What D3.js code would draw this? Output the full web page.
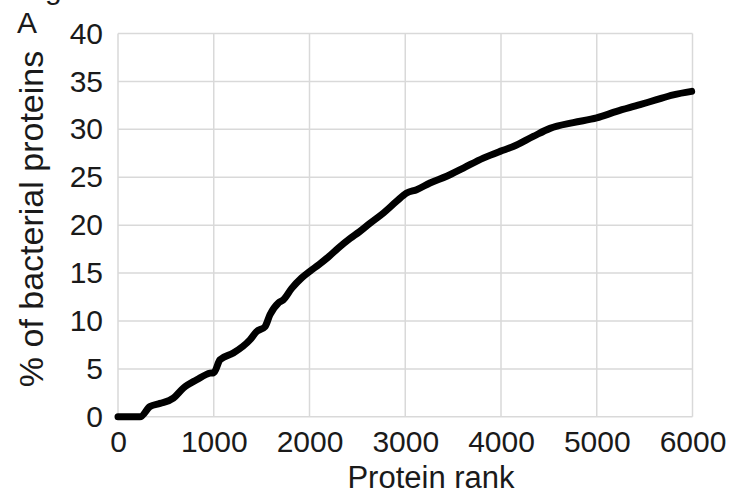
<!DOCTYPE html>
<html>
<head>
<meta charset="utf-8">
<script src="https://cdn.jsdelivr.net/npm/d3@7"></script>
<style>
  html, body { margin: 0; padding: 0; background: #fff; }
  svg { display: block; }
  text { font-family: "Liberation Sans", Arial, sans-serif; fill: #1a1a1a; }
</style>
</head>
<body>
<svg id="chart" width="734" height="499"></svg>
<script>
// Data
const rank = [0, 100, 230, 334, 439, 578, 682, 822, 961, 1000, 1065, 1204, 1379, 1448, 1535, 1587, 1674, 1726, 1814, 1918, 2005,
  2100, 2200, 2300, 2423, 2520, 2632, 2771, 2911, 3015, 3119, 3258, 3433, 3607, 3815, 3990,
  4128, 4337, 4512, 4755, 4999, 5208, 5452, 5626, 5800, 5991];
const pctBacterial = [0, 0, 0, 1.07, 1.4, 1.95, 3.0, 3.86, 4.56, 4.6, 5.95, 6.65, 8.04, 8.9, 9.4, 10.65, 11.87, 12.2, 13.4, 14.5, 15.2,
  15.9, 16.7, 17.6, 18.6, 19.3, 20.2, 21.26, 22.5, 23.35, 23.7, 24.4, 25.1, 25.96, 27.0, 27.7,
  28.2, 29.26, 30.1, 30.7, 31.2, 31.87, 32.57, 33.1, 33.6, 33.96];
const xTicks = [0, 1000, 2000, 3000, 4000, 5000, 6000];
const yTicks = [0, 5, 10, 15, 20, 25, 30, 35, 40];
const xTitle = "Protein rank";
const yTitle = "% of bacterial proteins";
const panelLabel = "A";

const svg = d3.select("#chart");
const W = 734, H = 499;
const m = { left: 118, right: W - 692.5, top: 33.5, bottom: H - 416.8 };
const x = d3.scaleLinear().domain([0, 6000]).range([m.left, W - m.right]);
const y = d3.scaleLinear().domain([0, 40]).range([H - m.bottom, m.top]);

const tickFs = 30;

// gridlines
const grid = svg.append("g");
grid.selectAll("line.v").data(xTicks).join("line")
  .attr("x1", d => x(d)).attr("x2", d => x(d))
  .attr("y1", y(0)).attr("y2", y(40))
  .attr("stroke", "#d9d9d9").attr("stroke-width", 1.5);
grid.selectAll("line.h").data(yTicks).join("line")
  .attr("x1", x(0)).attr("x2", x(6000))
  .attr("y1", d => y(d)).attr("y2", d => y(d))
  .attr("stroke", "#d9d9d9").attr("stroke-width", 1.5);

// axes (labels only)
const xAxis = svg.append("g").attr("transform", `translate(0,${y(0)})`)
  .call(d3.axisBottom(x).tickValues(xTicks).tickSize(0).tickPadding(14).tickFormat(d3.format("d")));
xAxis.select(".domain").remove();
xAxis.selectAll("text").attr("font-size", tickFs).attr("font-family", "Liberation Sans, Arial, sans-serif").attr("fill", "#1a1a1a");

const yAxis = svg.append("g").attr("transform", `translate(${x(0)},0)`)
  .call(d3.axisLeft(y).tickValues(yTicks).tickSize(0).tickPadding(15).tickFormat(d3.format("d")));
yAxis.select(".domain").remove();
yAxis.selectAll("text").attr("font-size", tickFs).attr("font-family", "Liberation Sans, Arial, sans-serif").attr("fill", "#1a1a1a");

// line
const data = rank.map((r, i) => ({ r, v: pctBacterial[i] }));
svg.append("path").datum(data)
  .attr("fill", "none").attr("stroke", "#000").attr("stroke-width", 7)
  .attr("stroke-linejoin", "round").attr("stroke-linecap", "round")
  .attr("d", d3.line().x(d => x(d.r)).y(d => y(d.v)).curve(d3.curveMonotoneX));

// titles
svg.append("text").attr("x", 431).attr("y", 488).attr("text-anchor", "middle")
  .attr("font-size", 31).text(xTitle);
svg.append("text").attr("transform", `translate(43,219) rotate(-90)`).attr("text-anchor", "middle")
  .attr("font-size", 34).text(yTitle);
svg.append("text").attr("x", 17).attr("y", 33).attr("font-size", 30).text(panelLabel);
svg.append("text").attr("x", 45).attr("y", -1).attr("font-size", 30).text("g");
</script>
</body>
</html>
